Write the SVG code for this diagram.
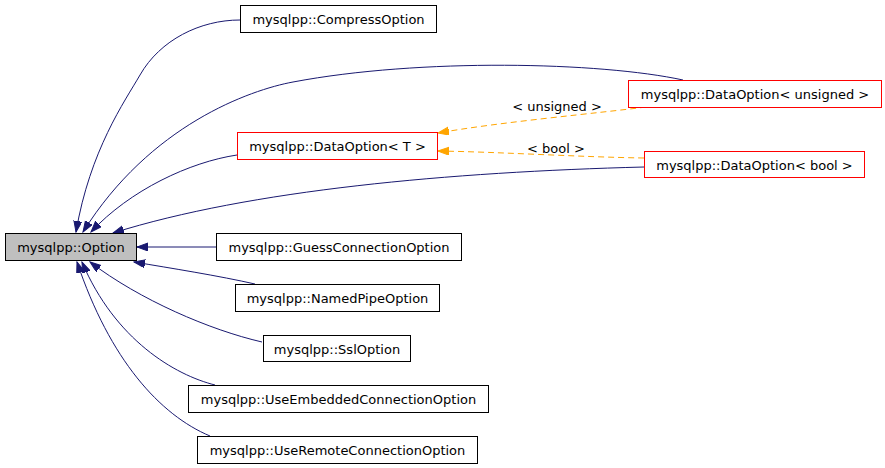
<svg xmlns="http://www.w3.org/2000/svg" width="885" height="468" viewBox="0 0 885 468">
<style>
  .box { fill: #ffffff; stroke: #000000; stroke-width: 1; }
  .red { fill: #ffffff; stroke: #ff0000; stroke-width: 1; }
  .main { fill: #bfbfbf; stroke: #000000; stroke-width: 1; }
  text { font-family: "DejaVu Sans", "Liberation Sans", sans-serif; font-size: 13px; fill: #000000; text-anchor: middle; }
  .inh { fill: none; stroke: #191970; stroke-width: 1; marker-end: url(#navyArrow); }
  .tmpl { fill: none; stroke: #ffa500; stroke-width: 1; stroke-dasharray: 6,4; marker-end: url(#orangeArrow); }
</style>
<defs>
  <marker id="navyArrow" markerUnits="userSpaceOnUse" markerWidth="12" markerHeight="9" refX="11" refY="4" orient="auto">
    <path d="M0,0 L11,4 L0,8 z" fill="#191970" stroke="#191970" stroke-width="1"/>
  </marker>
  <marker id="orangeArrow" markerUnits="userSpaceOnUse" markerWidth="12" markerHeight="9" refX="11" refY="4" orient="auto">
    <path d="M0,0 L11,4 L0,8 z" fill="#ffa500" stroke="#ffa500" stroke-width="1"/>
  </marker>
</defs>
<rect width="885" height="468" fill="#ffffff"/>

<g id="connectors">
  <path class="inh" d="M240,20 C200,20 160,40 140,75 C125,101 90,150 76,232"/>
  <path class="inh" d="M683,80 C600,62 420,58 293,82 C250,90 150,125 83,232"/>
  <path class="inh" d="M237,155 C190,162 130,190 91,232"/>
  <path class="inh" d="M644,167 C450,172 250,190 113,233"/>
  <path class="inh" d="M216,247 L137,247"/>
  <path class="inh" d="M255,284 C220,276 170,268 134,262"/>
  <path class="inh" d="M262,342 C210,330 140,300 90,262"/>
  <path class="inh" d="M215,385 C175,375 115,340 82,262"/>
  <path class="inh" d="M210,436 C160,415 110,360 77,262"/>
  <path class="tmpl" d="M646,107 C600,113 500,122 438,133"/>
  <text x="557" y="111">&lt; unsigned &gt;</text>
  <path class="tmpl" d="M644,158 C580,157 500,152 438,151"/>
  <text x="556" y="153">&lt; bool &gt;</text>
</g>

<g id="node-option">
  <rect class="main" x="5.5" y="233.5" width="131" height="27"/>
  <text x="71" y="252">mysqlpp::Option</text>
</g>
<g id="node-compress">
  <rect class="box" x="240.5" y="5.5" width="196" height="27"/>
  <text x="338.5" y="24">mysqlpp::CompressOption</text>
</g>
<g id="node-dataoption-unsigned">
  <rect class="red" x="628.5" y="80.5" width="253" height="27"/>
  <text x="755" y="99">mysqlpp::DataOption&lt; unsigned &gt;</text>
</g>
<g id="node-dataoption-t">
  <rect class="red" x="237.5" y="132.5" width="200" height="27"/>
  <text x="337.5" y="151">mysqlpp::DataOption&lt; T &gt;</text>
</g>
<g id="node-dataoption-bool">
  <rect class="red" x="644.5" y="151.5" width="220" height="26"/>
  <text x="754.5" y="169.5">mysqlpp::DataOption&lt; bool &gt;</text>
</g>
<g id="node-guess">
  <rect class="box" x="216.5" y="233.5" width="245" height="27"/>
  <text x="339" y="252">mysqlpp::GuessConnectionOption</text>
</g>
<g id="node-namedpipe">
  <rect class="box" x="235.5" y="284.5" width="204" height="27"/>
  <text x="337.5" y="303">mysqlpp::NamedPipeOption</text>
</g>
<g id="node-ssl">
  <rect class="box" x="263.5" y="335.5" width="147" height="26"/>
  <text x="337" y="353.5">mysqlpp::SslOption</text>
</g>
<g id="node-useembedded">
  <rect class="box" x="188.5" y="385.5" width="300" height="27"/>
  <text x="338.5" y="404">mysqlpp::UseEmbeddedConnectionOption</text>
</g>
<g id="node-useremote">
  <rect class="box" x="197.5" y="436.5" width="280" height="27"/>
  <text x="337.5" y="455">mysqlpp::UseRemoteConnectionOption</text>
</g>
</svg>
